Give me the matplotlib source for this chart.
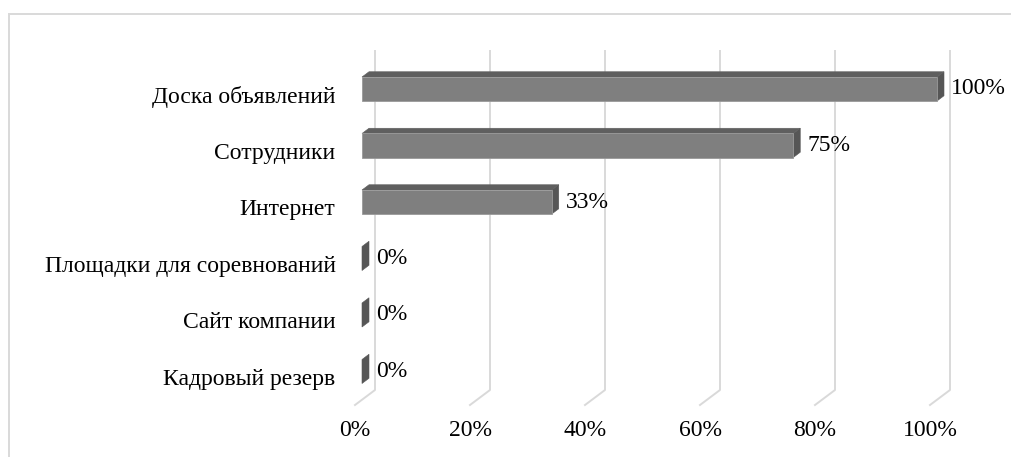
import numpy as np
import matplotlib.pyplot as plt
from matplotlib.patches import Polygon, Rectangle

categories = ['Доска объявлений', 'Сотрудники', 'Интернет',
              'Площадки для соревнований', 'Сайт компании', 'Кадровый резерв']
shares = [1.00, 0.75, 0.33, 0.0, 0.0, 0.0]
ticks = [0, 0.2, 0.4, 0.6, 0.8, 1.0]
tick_labels = ['0%', '20%', '40%', '60%', '80%', '100%']

plt.rcParams['font.family'] = ['Liberation Serif', 'DejaVu Serif']
FS = 17

W, H = 1011, 457
fig = plt.figure(figsize=(W / 100, H / 100), dpi=100)

# chart frame (runs off the right/bottom edges)
fig.patches.append(Rectangle((9 / W, -0.1), 1.2, 1 - 14 / H + 0.1,
                             transform=fig.transFigure, fill=False,
                             ec='#d9d9d9', lw=1.4))

n = len(categories)
ax = fig.add_axes([355 / W, 1 - 405 / H, 575 / W, (405 - 66) / H])
ax.set_xlim(0, 1)
ax.set_ylim(0, n)
ax.patch.set_visible(False)
for s in ax.spines.values():
    s.set_visible(False)

# depth of the 3d box, in data units
DX = 20 / 575
DY = 15 / ((405 - 66) / n)

# back wall gridlines with the floor diagonal
for t in ticks:
    ax.plot([t, t + DX, t + DX], [0, DY, n + DY], color='#d9d9d9', lw=1.4,
            clip_on=False, zorder=1)

ypos = n - 0.5 - np.arange(n)
h = 0.425
d0, d1 = 0.35, 0.70
for y, v in zip(ypos, shares):
    y0, y1 = y - h / 2, y + h / 2
    fx, fy = d0 * DX, d0 * DY
    bx, by = d1 * DX, d1 * DY
    side = [(v + fx, y0 + fy), (v + bx, y0 + by), (v + bx, y1 + by), (v + fx, y1 + fy)]
    ax.add_patch(Polygon(side, closed=True, fc='#565656', ec='#565656', lw=0.4,
                         clip_on=False, zorder=3))
    if v > 0:
        top = [(fx, y1 + fy), (v + fx, y1 + fy), (v + bx, y1 + by), (bx, y1 + by)]
        front = [(fx, y0 + fy), (v + fx, y0 + fy), (v + fx, y1 + fy), (fx, y1 + fy)]
        ax.add_patch(Polygon(top, closed=True, fc='#5f5f5f', ec='#5f5f5f', lw=0.4,
                             clip_on=False, zorder=3))
        ax.add_patch(Polygon(front, closed=True, fc='#7f7f7f', ec='#9a9a9a', lw=0.6,
                             clip_on=False, zorder=4))
    ax.annotate(f'{v:.0%}', (v + bx, y + fy), xytext=(5, 0),
                textcoords='offset points', ha='left', va='center',
                fontsize=FS, color='black', annotation_clip=False)

ax.set_yticks(ypos, categories)
ax.set_xticks(ticks, tick_labels)
ax.tick_params(axis='y', length=0, pad=14, labelsize=FS)
ax.tick_params(axis='x', length=0, pad=11, labelsize=FS)

fig.savefig('out.png', dpi=100)
